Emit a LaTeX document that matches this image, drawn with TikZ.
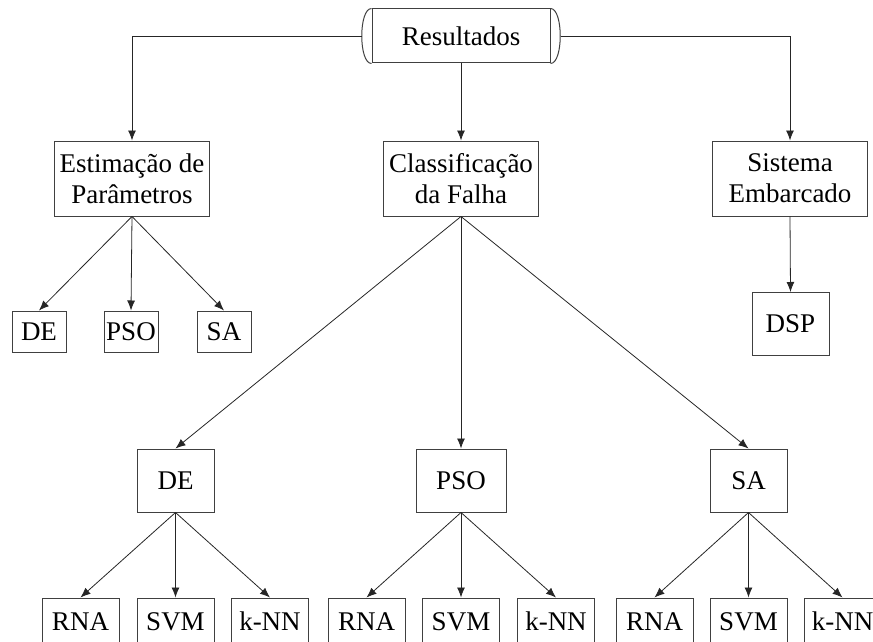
\documentclass[tikz,border=0pt]{standalone}
\usepackage{fontspec}
\setmainfont{Liberation Serif}
\usetikzlibrary{arrows.meta}
\begin{document}
\begin{tikzpicture}[x=1pt,y=-1pt,
  every node/.style={font=\fontsize{27}{31}\selectfont},
  box/.style={draw=black!75,line width=1pt,inner sep=0pt,align=center},
  headbox/.style={box,minimum width=155pt,minimum height=75pt},
  smallbox/.style={box,minimum width=54pt,minimum height=41pt},
  midbox/.style={box,minimum width=77pt,minimum height=63pt},
  leafbox/.style={box,minimum width=77pt,text height=32pt,text depth=31pt},
  link/.style={draw=black!85,line width=0.8pt},
  arr/.style={link,-{Latex[length=10pt,width=8pt]}}
]
\useasboundingbox (0,0) rectangle (873,642);

% root node with rounded side caps
\node[box,minimum width=178pt,minimum height=54pt] (res) at (461,36) {Resultados};
\draw[box] (res.north west) .. controls ([xshift=-13pt]res.north west) and ([xshift=-13pt]res.south west) .. (res.south west);
\draw[box] (res.north east) .. controls ([xshift=13pt]res.north east) and ([xshift=13pt]res.south east) .. (res.south east);
\coordinate (resL) at ([xshift=-10pt]res.west);
\coordinate (resR) at ([xshift=10pt]res.east);

% second level
\node[headbox] (est) at (132,178.5) {Estimação de\\Parâmetros};
\node[headbox] (cls) at (461,178.5) {Classificação\\da Falha};
\node[headbox] (sis) at (790,178.5) {Sistema\\Embarcado};

% parameter estimation methods
\node[smallbox] (de1) at (39,331.5) {DE};
\node[smallbox] (pso1) at (131,331.5) {PSO};
\node[smallbox] (sa1) at (224,331.5) {SA};

% embedded system
\node[midbox] (dsp) at (790.5,324) {DSP};

% fault classification optimisers
\node[box,minimum width=77pt,minimum height=63pt] (de2) at (175.5,480.5) {DE};
\node[box,minimum width=90pt,minimum height=63pt] (pso2) at (461,480.5) {PSO};
\node[box,minimum width=77pt,minimum height=63pt] (sa2) at (748.5,480.5) {SA};

% classifiers
\node[leafbox] (rna1) at (80.5,629.5) {RNA};
\node[leafbox] (svm1) at (175.5,629.5) {SVM};
\node[leafbox] (knn1) at (270,629.5) {k-NN};
\node[leafbox] (rna2) at (366.5,629.5) {RNA};
\node[leafbox] (svm2) at (461,629.5) {SVM};
\node[leafbox] (knn2) at (556,629.5) {k-NN};
\node[leafbox] (rna3) at (654.5,629.5) {RNA};
\node[leafbox] (svm3) at (748.5,629.5) {SVM};
\node[leafbox] (knn3) at (842.5,629.5) {k-NN};

% connectors
\draw[arr] (resL) -| (est.north);
\draw[arr] (resR) -| (sis.north);
\draw[arr] (res.south) -- (cls.north);

\draw[arr] (est.south) -- (de1.north);
\draw[arr] (est.south) -- (pso1.north);
\draw[arr] (est.south) -- (sa1.north);

\draw[arr] (sis.south) -- (dsp.north);

\draw[arr] (cls.south) -- (de2.north);
\draw[arr] (cls.south) -- (pso2.north);
\draw[arr] (cls.south) -- (sa2.north);

\draw[arr] (de2.south) -- (rna1.north);
\draw[arr] (de2.south) -- (svm1.north);
\draw[arr] (de2.south) -- (knn1.north);
\draw[arr] (pso2.south) -- (rna2.north);
\draw[arr] (pso2.south) -- (svm2.north);
\draw[arr] (pso2.south) -- (knn2.north);
\draw[arr] (sa2.south) -- (rna3.north);
\draw[arr] (sa2.south) -- (svm3.north);
\draw[arr] (sa2.south) -- (knn3.north);
\end{tikzpicture}
\end{document}
